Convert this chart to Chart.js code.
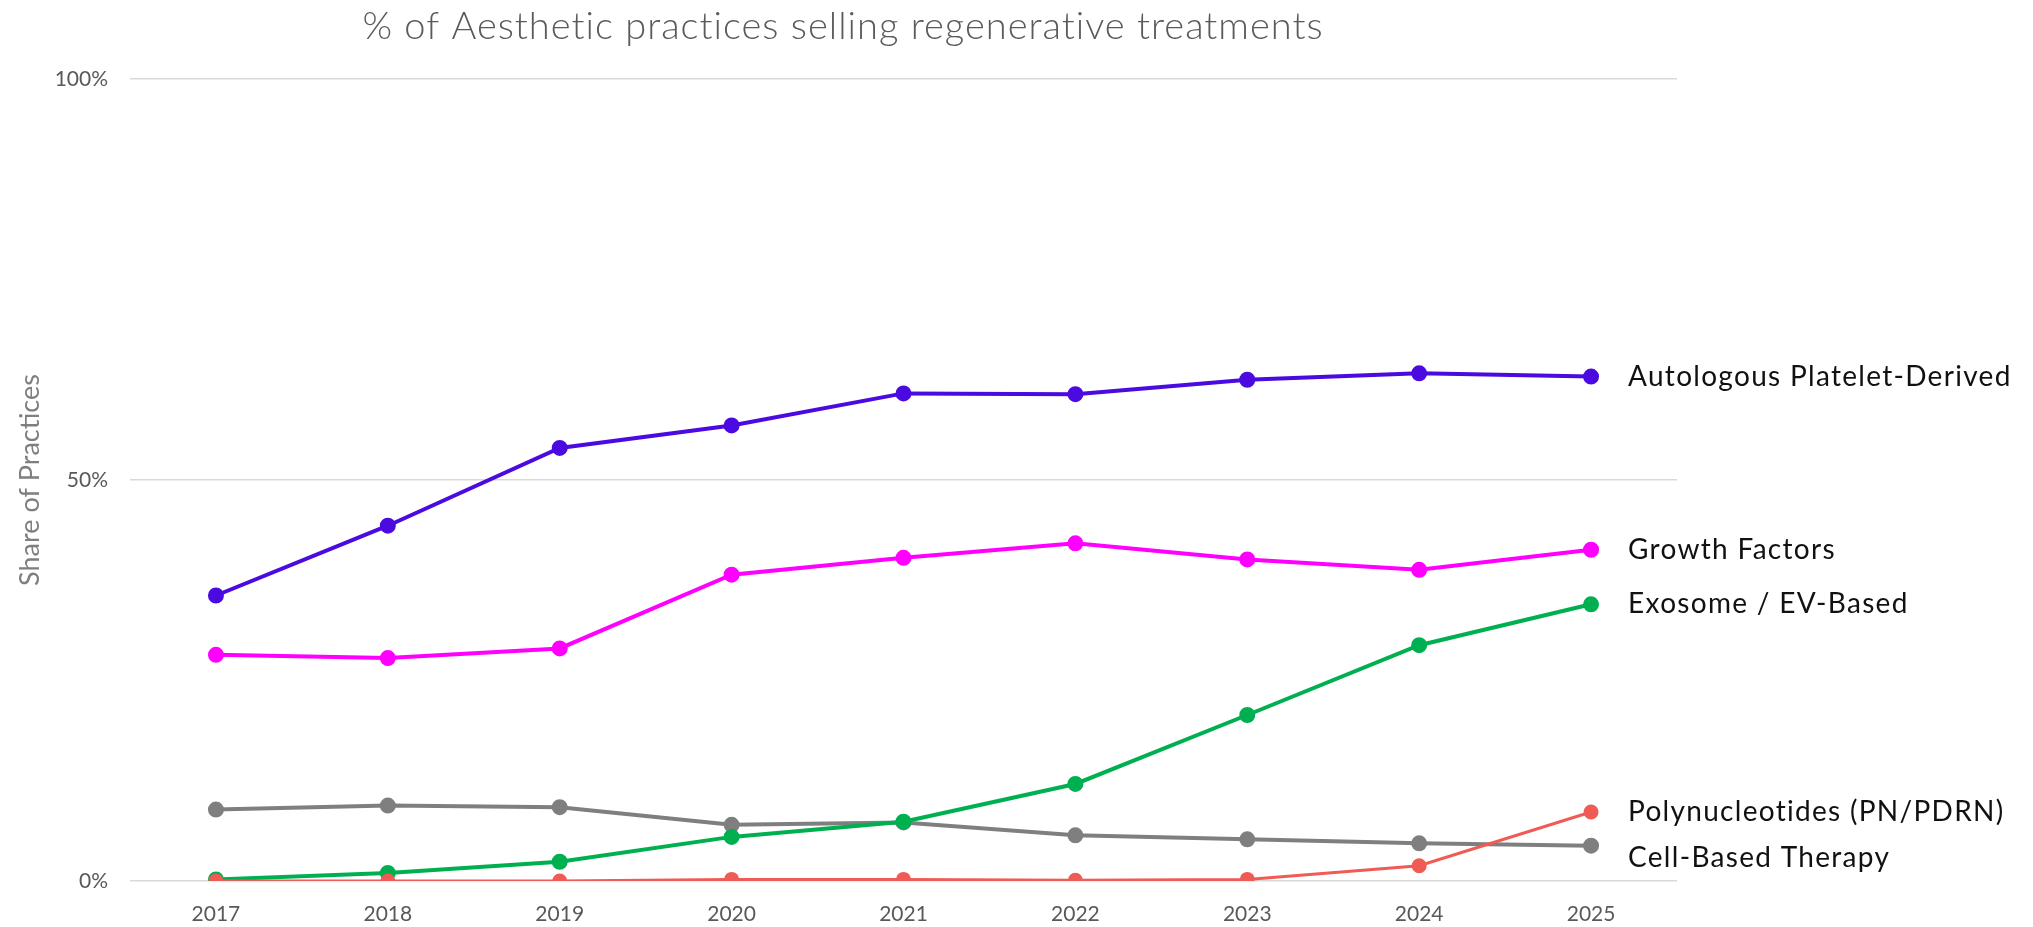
<!DOCTYPE html>
<html>
<head>
<meta charset="utf-8">
<script src="https://cdn.jsdelivr.net/npm/chart.js@4.4.1/dist/chart.umd.min.js"></script>
<style>
  html, body { margin: 0; padding: 0; background: #ffffff; }
  #wrap { width: 2033px; height: 927px; position: relative; }
</style>
</head>
<body>
<div id="wrap"><canvas id="chart"></canvas></div>
<script>
// ── data ─────────────────────────────────────────────
const years = ['2017', '2018', '2019', '2020', '2021', '2022', '2023', '2024', '2025'];

const polynucleotides = [0, 0, 0, 0.2, 0.2, 0.1, 0.2, 1.9, 8.6];
const exosome         = [0.2, 1.0, 2.4, 5.5, 7.4, 12.1, 20.7, 29.4, 34.5];
const cellBased       = [8.9, 9.4, 9.2, 7.0, 7.3, 5.7, 5.2, 4.7, 4.4];
const growthFactors   = [28.2, 27.8, 29.0, 38.2, 40.3, 42.1, 40.1, 38.8, 41.3];
const autologous      = [35.6, 44.3, 54.0, 56.8, 60.8, 60.7, 62.5, 63.3, 62.9];

const yTicks = [0, 50, 100];

const chartTitle = '% of Aesthetic practices selling regenerative treatments';
const yTitle = 'Share of Practices';

const FONT = 'Lato, "Open Sans", sans-serif';

function series(label, data, color, width) {
    return {
        label, data,
        borderColor: color, backgroundColor: color,
        pointBackgroundColor: color, pointBorderColor: color,
        borderWidth: width, pointRadius: 6, pointHoverRadius: 6,
        tension: 0, fill: false,
    };
}

// title drawn left of centre, like the reference
const titlePlugin = {
    id: 'topTitle',
    afterDraw(chart) {
        const ctx = chart.ctx;
        ctx.save();
        ctx.font = `300 38px ${FONT}`;
        ctx.letterSpacing = '1px';
        ctx.fillStyle = '#5a5a5a';
        ctx.textAlign = 'center';
        ctx.textBaseline = 'middle';
        ctx.fillText(chartTitle, 843, 27);
        ctx.restore();
    },
};

// series names at the end of each line, pushed down when too close
const endLabels = {
    id: 'endLabels',
    afterDatasetsDraw(chart) {
        const ctx = chart.ctx;
        const items = chart.data.datasets.map((ds, i) => {
            const pts = chart.getDatasetMeta(i).data;
            const p = pts[pts.length - 1];
            return { text: ds.label, x: p.x + 37, y: p.y };
        }).sort((a, b) => a.y - b.y);

        const gap = 46;
        for (let i = 1; i < items.length; i++) {
            if (items[i].y - items[i - 1].y < gap) items[i].y = items[i - 1].y + gap;
        }

        ctx.save();
        ctx.font = `28px ${FONT}`;
        ctx.letterSpacing = '1.3px';
        ctx.fillStyle = '#111111';
        ctx.textAlign = 'left';
        ctx.textBaseline = 'middle';
        items.forEach(it => ctx.fillText(it.text, it.x, it.y));
        ctx.restore();
    },
};

new Chart(document.getElementById('chart'), {
    type: 'line',
    data: {
        labels: years,
        datasets: [
            series('Polynucleotides (PN/PDRN)', polynucleotides, '#ef5b55', 3),
            series('Exosome / EV-Based', exosome, '#00b050', 4),
            series('Cell-Based Therapy', cellBased, '#7f7f7f', 4),
            series('Growth Factors', growthFactors, '#ff00ff', 4),
            series('Autologous Platelet-Derived', autologous, '#4a0ae0', 4),
        ],
    },
    options: {
        responsive: true, maintainAspectRatio: false,
        animation: false,
        layout: { padding: { left: 0, top: 79, right: 356, bottom: 0 } },
        plugins: {
            legend: { display: false },
            title: { display: false },
            tooltip: { enabled: false },
        },
        scales: {
            x: {
                type: 'category',
                offset: true,
                grid: { display: false, drawTicks: false },
                border: { display: false },
                ticks: { color: '#595959', font: { family: FONT, size: 21 }, padding: 21 },
                afterFit: s => { s.height = 46; },
            },
            y: {
                min: 0, max: 100,
                afterBuildTicks: s => { s.ticks = yTicks.map(v => ({ value: v })); },
                grid: { color: '#d9d9d9', lineWidth: 1.5, drawTicks: false },
                border: { display: false },
                ticks: {
                    color: '#595959', font: { family: FONT, size: 21 }, padding: 22,
                    callback: v => `${v}%`,
                },
                title: {
                    display: true, text: yTitle, color: '#7f7f7f',
                    font: { family: FONT, size: 27 }, padding: { top: 14, bottom: 0 },
                },
                afterFit: s => { s.width = 130; },
            },
        },
    },
    plugins: [titlePlugin, endLabels],
});
</script>
</body>
</html>
